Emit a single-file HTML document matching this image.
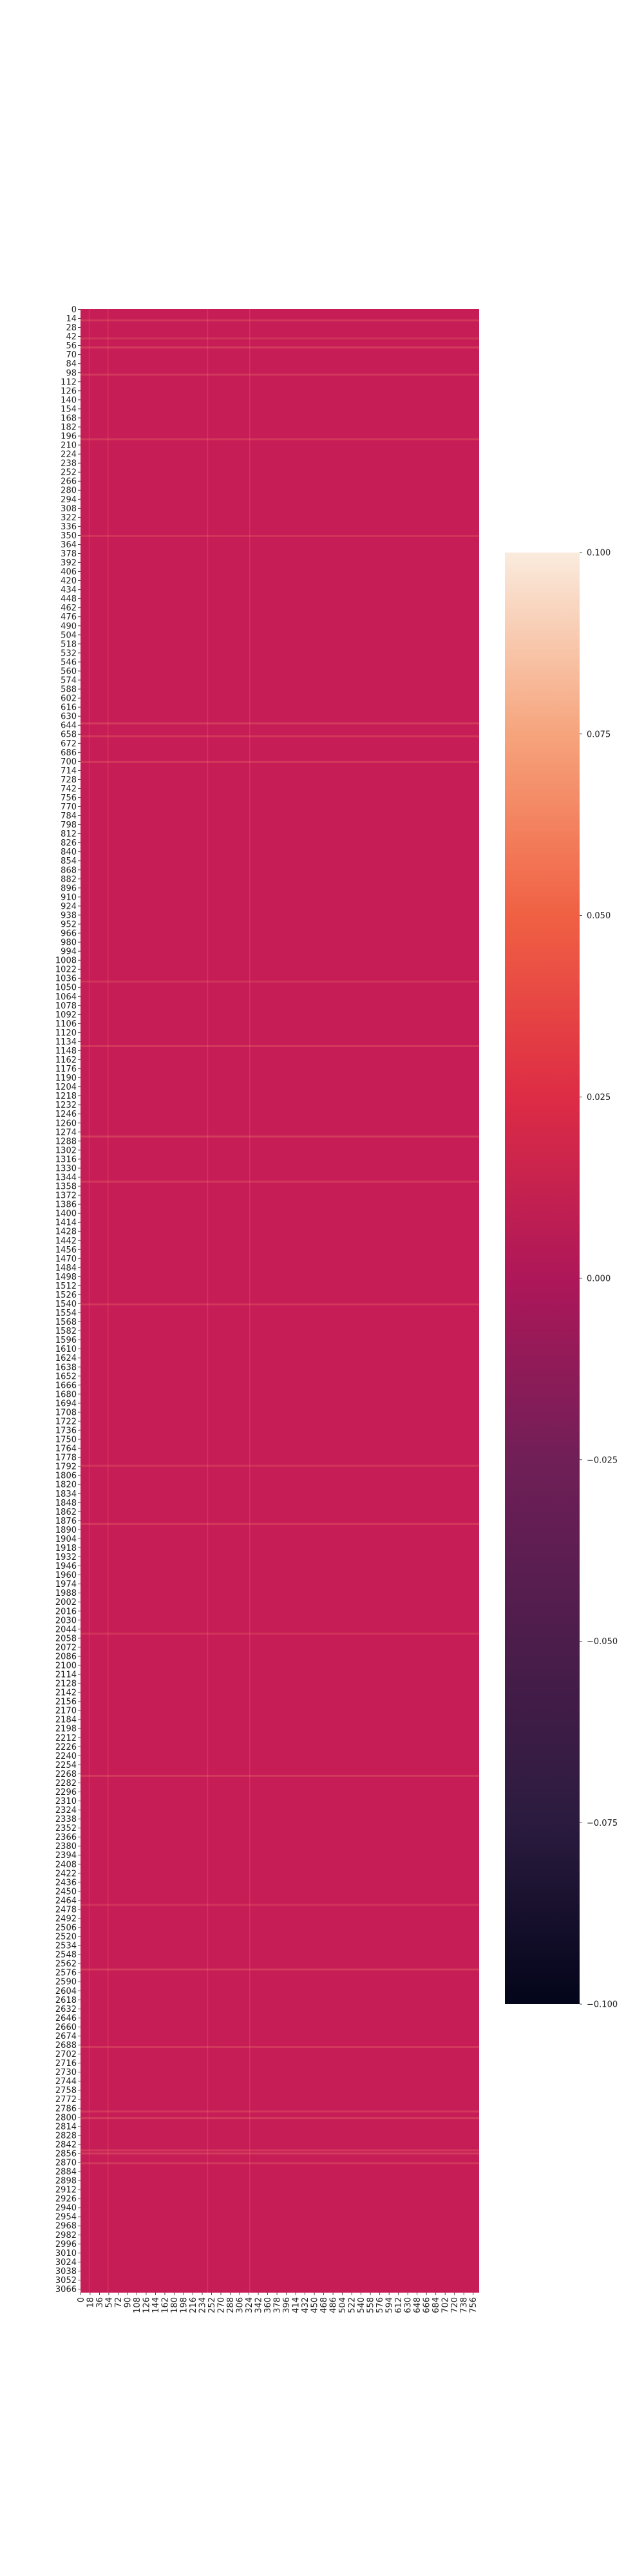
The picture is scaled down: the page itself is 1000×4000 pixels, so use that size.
<!DOCTYPE html>
<html><head><meta charset="utf-8"><style>
body{margin:0;background:#fff;}
svg{display:block;font-family:"DejaVu Sans","Liberation Sans",sans-serif;}
</style></head><body>
<svg id="chart" width="1000" height="4000" xmlns="http://www.w3.org/2000/svg">
<defs>
<linearGradient id="rocket" x1="0" y1="1" x2="0" y2="0">
<stop offset="0" stop-color="#03051a"/>
<stop offset="0.125" stop-color="#2b1b3f"/>
<stop offset="0.25" stop-color="#4c1d4b"/>
<stop offset="0.375" stop-color="#701f57"/>
<stop offset="0.5" stop-color="#ae1759"/>
<stop offset="0.625" stop-color="#dd2c45"/>
<stop offset="0.75" stop-color="#f06043"/>
<stop offset="0.875" stop-color="#f6a47c"/>
<stop offset="1" stop-color="#faebdd"/>
</linearGradient>
</defs>
<g id="plot"></g>
</svg>
<script>
const nRows = 3072, nCols = 768;
const yTickStep = 14, xTickStep = 18;
const cbTicks = [-0.1, -0.075, -0.05, -0.025, 0, 0.025, 0.05, 0.075, 0.1];
const cbLabels = ["\u22120.100","\u22120.075","\u22120.050","\u22120.025","0.000","0.025","0.050","0.075","0.100"];
const stripeRows = [16,44,58,100,200,350,640,660,700,1040,1140,1280,1350,1540,1790,1880,2050,2270,2470,2570,2690,2790,2800,2850,2855,2870];
const stripeValues = [0.03,0.02,0.04,0.03,0.03,0.02,0.04,0.03,0.03,0.02,0.03,0.04,0.03,0.03,0.02,0.03,0.02,0.03,0.02,0.04,0.03,0.03,0.04,0.03,0.04,0.03];
const stripeCols = [16,52,244,325];
const stripeColValues = [0.02,0.025,0.03,0.02];

const L=125,R=744,T=480,B=3560;
const sx=c=>L+(c)*(R-L)/nCols;
const sy=r=>T+(r)*(B-T)/nRows;
const CT=858,CB=3112;
const cy=v=>CB-(v+0.1)/0.2*(CB-CT);
const NS="http://www.w3.org/2000/svg";
const g=document.getElementById('plot');
function mk(tag,attrs){const e=document.createElementNS(NS,tag);for(const k in attrs)e.setAttribute(k,attrs[k]);g.appendChild(e);return e;}
function color(v){const t=Math.min(1,Math.max(0,v/0.1));return `rgba(250,160,110,${0.12+t*0.3})`;}

let bg=mk('rect',{x:L,y:T,width:R-L,height:B-T,fill:'#c71d57'});


stripeRows.forEach((r,i)=>{
  const e=mk('rect',{x:L,y:sy(r),width:R-L,height:3,fill:color(stripeValues[i])});
  
  
});
stripeCols.forEach((c,i)=>{
  const e=mk('rect',{x:sx(c),y:T,width:1.5,height:B-T,fill:color(stripeColValues[i])});
  
  
});
for(let r=0;r<nRows;r+=yTickStep){
  const y=sy(r+0.5);
  const tk=mk('line',{x1:L-4,x2:L,y1:y,y2:y,stroke:'#222','stroke-width':0.8});
  
  
  const t=mk('text',{x:L-6,y:y+4.5,'text-anchor':'end','font-size':13,fill:'#222'});
  t.textContent=r;
  
  
}
for(let c=0;c<nCols;c+=xTickStep){
  const x=sx(c+0.5);
  const tk=mk('line',{x1:x,x2:x,y1:B,y2:B+4,stroke:'#222','stroke-width':0.8});
  
  
  const t=mk('text',{x:x+4.5,y:B+7,'text-anchor':'end','font-size':13,fill:'#222',transform:`rotate(-90 ${x+4.5} ${B+7})`});
  t.textContent=c;
  
  
}
let cb=mk('rect',{x:784,y:CT,width:116,height:CB-CT,fill:'url(#rocket)'});


cbTicks.forEach((v,i)=>{
  const y=cy(v);
  const tk=mk('line',{x1:900,x2:904,y1:y,y2:y,stroke:'#222','stroke-width':0.8});
  
  
  const t=mk('text',{x:911,y:y+4.5,'font-size':13,fill:'#222'});
  t.textContent=cbLabels[i];
  
  
});
</script>
</body></html>
